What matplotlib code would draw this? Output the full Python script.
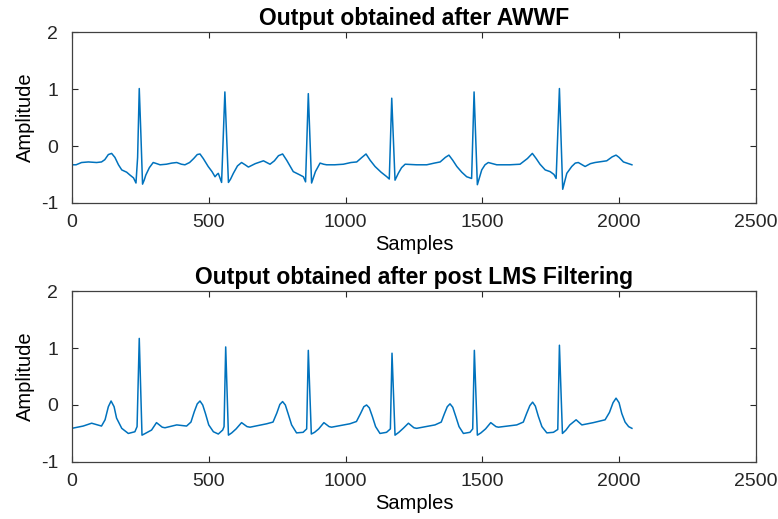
import matplotlib
matplotlib.use("Agg")
import matplotlib.pyplot as plt

# ---- data (sample index, amplitude) ----
awwf_samples = [0, 15, 35, 60, 90, 108, 120, 133, 145, 157, 170, 182, 200, 212, 225, 234, 240, 246,
                252, 258, 264, 270, 283, 297, 310, 322, 345, 365, 383, 400, 413, 430, 445, 458,
                468, 480, 498, 512, 523, 530, 535, 547, 559, 572, 580, 590, 605, 620, 633, 645,
                670, 700, 712, 724, 740, 755, 770, 785, 809, 830, 846, 854, 864, 876, 890, 907,
                920, 931, 960, 992, 1020, 1041, 1060, 1075, 1090, 1108, 1130, 1151, 1160, 1169,
                1181, 1193, 1205, 1218, 1260, 1297, 1325, 1346, 1365, 1378, 1392, 1407, 1425,
                1443, 1461, 1470, 1482, 1498, 1510, 1522, 1553, 1600, 1638, 1665, 1683, 1697,
                1711, 1730, 1748, 1762, 1770, 1782, 1794, 1809, 1827, 1840, 1851, 1876, 1895,
                1912, 1955, 1975, 1989, 2000, 2016, 2047]
awwf_values = [-0.33, -0.33, -0.29, -0.28, -0.29, -0.28, -0.24, -0.15, -0.13, -0.20, -0.33, -0.42,
               -0.46, -0.51, -0.56, -0.65, -0.20, 1.01, 0.20, -0.67, -0.60, -0.51, -0.38, -0.29,
               -0.31, -0.33, -0.32, -0.30, -0.29, -0.32, -0.33, -0.29, -0.22, -0.15, -0.14, -0.22,
               -0.36, -0.45, -0.54, -0.50, -0.48, -0.64, 0.95, -0.64, -0.58, -0.48, -0.35, -0.29,
               -0.33, -0.37, -0.31, -0.26, -0.29, -0.32, -0.26, -0.17, -0.14, -0.25, -0.45, -0.50,
               -0.54, -0.63, 0.92, -0.65, -0.45, -0.30, -0.32, -0.33, -0.33, -0.32, -0.29, -0.28,
               -0.20, -0.14, -0.25, -0.36, -0.46, -0.54, -0.58, 0.84, -0.60, -0.48, -0.38, -0.32,
               -0.33, -0.33, -0.30, -0.28, -0.20, -0.16, -0.25, -0.36, -0.46, -0.54, -0.57, 0.95,
               -0.68, -0.42, -0.33, -0.29, -0.33, -0.33, -0.32, -0.22, -0.13, -0.22, -0.32, -0.42,
               -0.45, -0.50, -0.57, 1.01, -0.76, -0.48, -0.36, -0.30, -0.29, -0.36, -0.31, -0.29,
               -0.26, -0.19, -0.16, -0.20, -0.28, -0.33]

lms_samples = [0, 41, 72, 108, 121, 133, 143, 154, 163, 182, 206, 230, 238, 246, 256, 268, 291,
               309, 330, 340, 383, 419, 435, 447, 458, 468, 478, 488, 500, 517, 535, 551, 556,
               562, 572, 584, 600, 620, 640, 651, 712, 735, 749, 760, 770, 780, 790, 803, 821,
               845, 858, 864, 875, 887, 902, 921, 940, 949, 1016, 1040, 1055, 1067, 1077, 1087,
               1098, 1110, 1126, 1150, 1164, 1170, 1181, 1195, 1211, 1230, 1250, 1260, 1327,
               1350, 1361, 1372, 1382, 1392, 1403, 1415, 1431, 1455, 1465, 1471, 1482, 1495,
               1512, 1531, 1550, 1559, 1626, 1650, 1662, 1674, 1684, 1694, 1705, 1718, 1736,
               1760, 1776, 1782, 1793, 1806, 1820, 1843, 1864, 1906, 1949, 1965, 1978, 1989,
               2000, 2010, 2022, 2035, 2047]
lms_values = [-0.41, -0.37, -0.32, -0.37, -0.26, -0.03, 0.07, -0.03, -0.23, -0.41, -0.50, -0.47,
              -0.38, 1.17, -0.53, -0.50, -0.44, -0.31, -0.39, -0.40, -0.35, -0.37, -0.30, -0.12,
              0.02, 0.07, 0.00, -0.15, -0.35, -0.47, -0.51, -0.44, -0.38, 1.02, -0.53, -0.49,
              -0.42, -0.31, -0.38, -0.39, -0.33, -0.30, -0.14, 0.01, 0.06, 0.00, -0.15, -0.35,
              -0.49, -0.48, -0.42, 0.96, -0.51, -0.48, -0.42, -0.31, -0.38, -0.39, -0.33, -0.29,
              -0.15, -0.03, 0.00, -0.05, -0.20, -0.38, -0.50, -0.48, -0.42, 0.91, -0.53, -0.48,
              -0.41, -0.32, -0.40, -0.41, -0.35, -0.30, -0.16, -0.03, 0.02, -0.04, -0.20, -0.38,
              -0.50, -0.48, -0.42, 0.96, -0.53, -0.49, -0.42, -0.31, -0.38, -0.39, -0.35, -0.30,
              -0.15, -0.01, 0.05, -0.02, -0.20, -0.38, -0.49, -0.48, -0.43, 1.05, -0.50, -0.44,
              -0.35, -0.26, -0.35, -0.31, -0.26, -0.13, 0.04, 0.12, 0.04, -0.15, -0.30, -0.38,
              -0.41]

titles = ["Output obtained after AWWF", "Output obtained after post LMS Filtering"]
xticks = [0, 500, 1000, 1500, 2000, 2500]
yticks = [-1, 0, 1, 2]

plt.rcParams['font.family'] = ['Liberation Sans', 'DejaVu Sans']
plt.rcParams['axes.unicode_minus'] = False

fig = plt.figure(figsize=(7.78, 5.19), dpi=100)
axes_pos = [[0.0925, 0.609, 0.879, 0.329], [0.0925, 0.110, 0.879, 0.329]]
series = [(awwf_samples, awwf_values), (lms_samples, lms_values)]

for pos, (xs, ys), title in zip(axes_pos, series, titles):
    ax = fig.add_axes(pos)
    ax.plot(xs, ys, color='#0072BD', linewidth=1.1)
    ax.set_xlim(0, 2500)
    ax.set_ylim(-1, 2)
    ax.set_xticks(xticks)
    ax.set_yticks(yticks)
    ax.tick_params(direction='in', top=True, right=True, length=4, labelsize=14,
                   colors='#262626', width=0.8)
    ax.tick_params(axis='x', pad=8)
    ax.tick_params(axis='y', pad=10)
    for sp in ax.spines.values():
        sp.set_color('#404040')
        sp.set_linewidth(0.9)
    ax.set_title(title, fontsize=16.5, fontweight='bold', pad=5)
    ax.set_xlabel('Samples', fontsize=14.5, labelpad=3)
    ax.set_ylabel('Amplitude', fontsize=14.5, labelpad=4)

fig.savefig('out.png', dpi=100)
